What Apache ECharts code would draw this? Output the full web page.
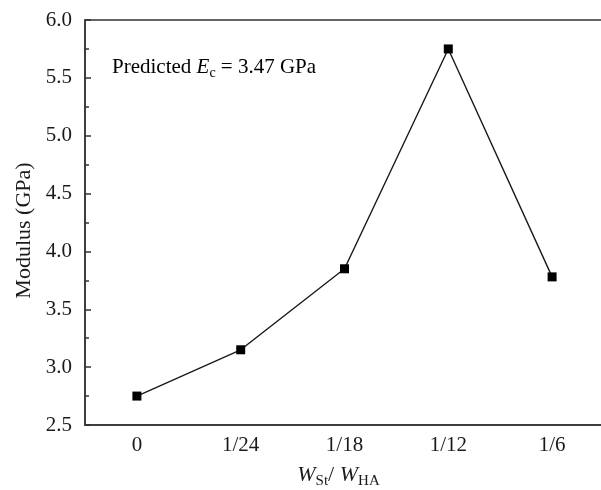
<!DOCTYPE html>
<html>
<head>
<meta charset="utf-8">
<script src="https://cdn.jsdelivr.net/npm/echarts@6/dist/echarts.min.js"></script>
<style>
  html, body { margin: 0; padding: 0; background: #fff; }
  #chart { width: 601px; height: 490px; }
</style>
</head>
<body>
<div id="chart"></div>
<script>
// 数据部分
var categories = ['0', '1/24', '1/18', '1/12', '1/6'];
var modulus = [2.75, 3.15, 3.85, 5.75, 3.78];
var yTicks = [2.5, 3.0, 3.5, 4.0, 4.5, 5.0, 5.5, 6.0];

(function () {
    var myChart = echarts.init(document.getElementById('chart'));
    var font = '"Liberation Serif", "DejaVu Serif", serif';
    var ink = '#1a1a1a';

    var option = {
        animation: false,
        grid: {
            left: 85,
            top: 20,
            width: 519,
            bottom: 65,
            outerBoundsMode: 'none',
            containLabel: false,
            show: true,
            borderColor: '#333',
            borderWidth: 1.5,
            backgroundColor: 'transparent'
        },
        graphic: [
            {
                type: 'text',
                left: 112,
                top: 57,
                style: {
                    text: '{n|Predicted }{i|E}{s|c}{n| = 3.47 GPa}',
                    rich: {
                        n: { fontFamily: font, fontSize: 21, color: ink, lineHeight: 26, verticalAlign: 'middle' },
                        i: { fontFamily: font, fontSize: 21, fontStyle: 'italic', color: ink, lineHeight: 26, verticalAlign: 'middle' },
                        s: { fontFamily: font, fontSize: 14, color: ink, lineHeight: 14, verticalAlign: 'bottom' }
                    }
                }
            }
        ],
        xAxis: [
            {
                type: 'category',
                data: categories,
                position: 'bottom',
                boundaryGap: true,
                axisLine: { lineStyle: { color: '#333', width: 1.5 } },
                axisTick: { inside: true, alignWithLabel: true, length: 6, lineStyle: { color: '#333', width: 1.5 } },
                axisLabel: { fontFamily: font, fontSize: 21, color: ink, margin: 10 },
                splitLine: { show: false },
                name: '{i|W}{s|St}{n|/ }{i|W}{s|HA}',
                nameLocation: 'middle',
                nameGap: 36,
                nameTextStyle: {
                    padding: [0, 12, 0, 0],
                    rich: {
                        n: { fontFamily: font, fontSize: 22, color: ink, lineHeight: 28, verticalAlign: 'middle' },
                        i: { fontFamily: font, fontSize: 22, fontStyle: 'italic', color: ink, lineHeight: 28, verticalAlign: 'middle' },
                        s: { fontFamily: font, fontSize: 15, color: ink, lineHeight: 15, verticalAlign: 'bottom' }
                    }
                }
            },
            {
                // 次刻度
                type: 'category',
                data: categories,
                position: 'bottom',
                boundaryGap: true,
                axisLine: { show: false },
                axisTick: { inside: true, alignWithLabel: false, length: 4, lineStyle: { color: '#333', width: 1.5 } },
                axisLabel: { show: false },
                splitLine: { show: false }
            }
        ],
        yAxis: {
            type: 'value',
            min: yTicks[0],
            max: yTicks[yTicks.length - 1],
            interval: 0.5,
            axisLine: { show: true, lineStyle: { color: '#333', width: 1.5 } },
            axisTick: { show: true, inside: true, length: 6, lineStyle: { color: '#333', width: 1.5 } },
            minorTick: { show: true, splitNumber: 2, length: 4, lineStyle: { color: '#333', width: 1.5 } },
            splitLine: { show: false },
            axisLabel: {
                fontFamily: font, fontSize: 21, color: ink, margin: 13,
                formatter: function (v) { return v.toFixed(1); }
            },
            name: 'Modulus (GPa)',
            nameLocation: 'middle',
            nameGap: 50,
            nameTextStyle: { fontFamily: font, fontSize: 22, color: ink, padding: [0, 16, 0, 0] }
        },
        series: [
            {
                type: 'line',
                data: modulus,
                symbol: 'rect',
                symbolSize: 9,
                lineStyle: { color: ink, width: 1.4 },
                itemStyle: { color: '#000' }
            }
        ]
    };

    myChart.setOption(option);

    window.addEventListener('resize', function () {
        myChart.resize();
    });
})();
</script>
</body>
</html>
